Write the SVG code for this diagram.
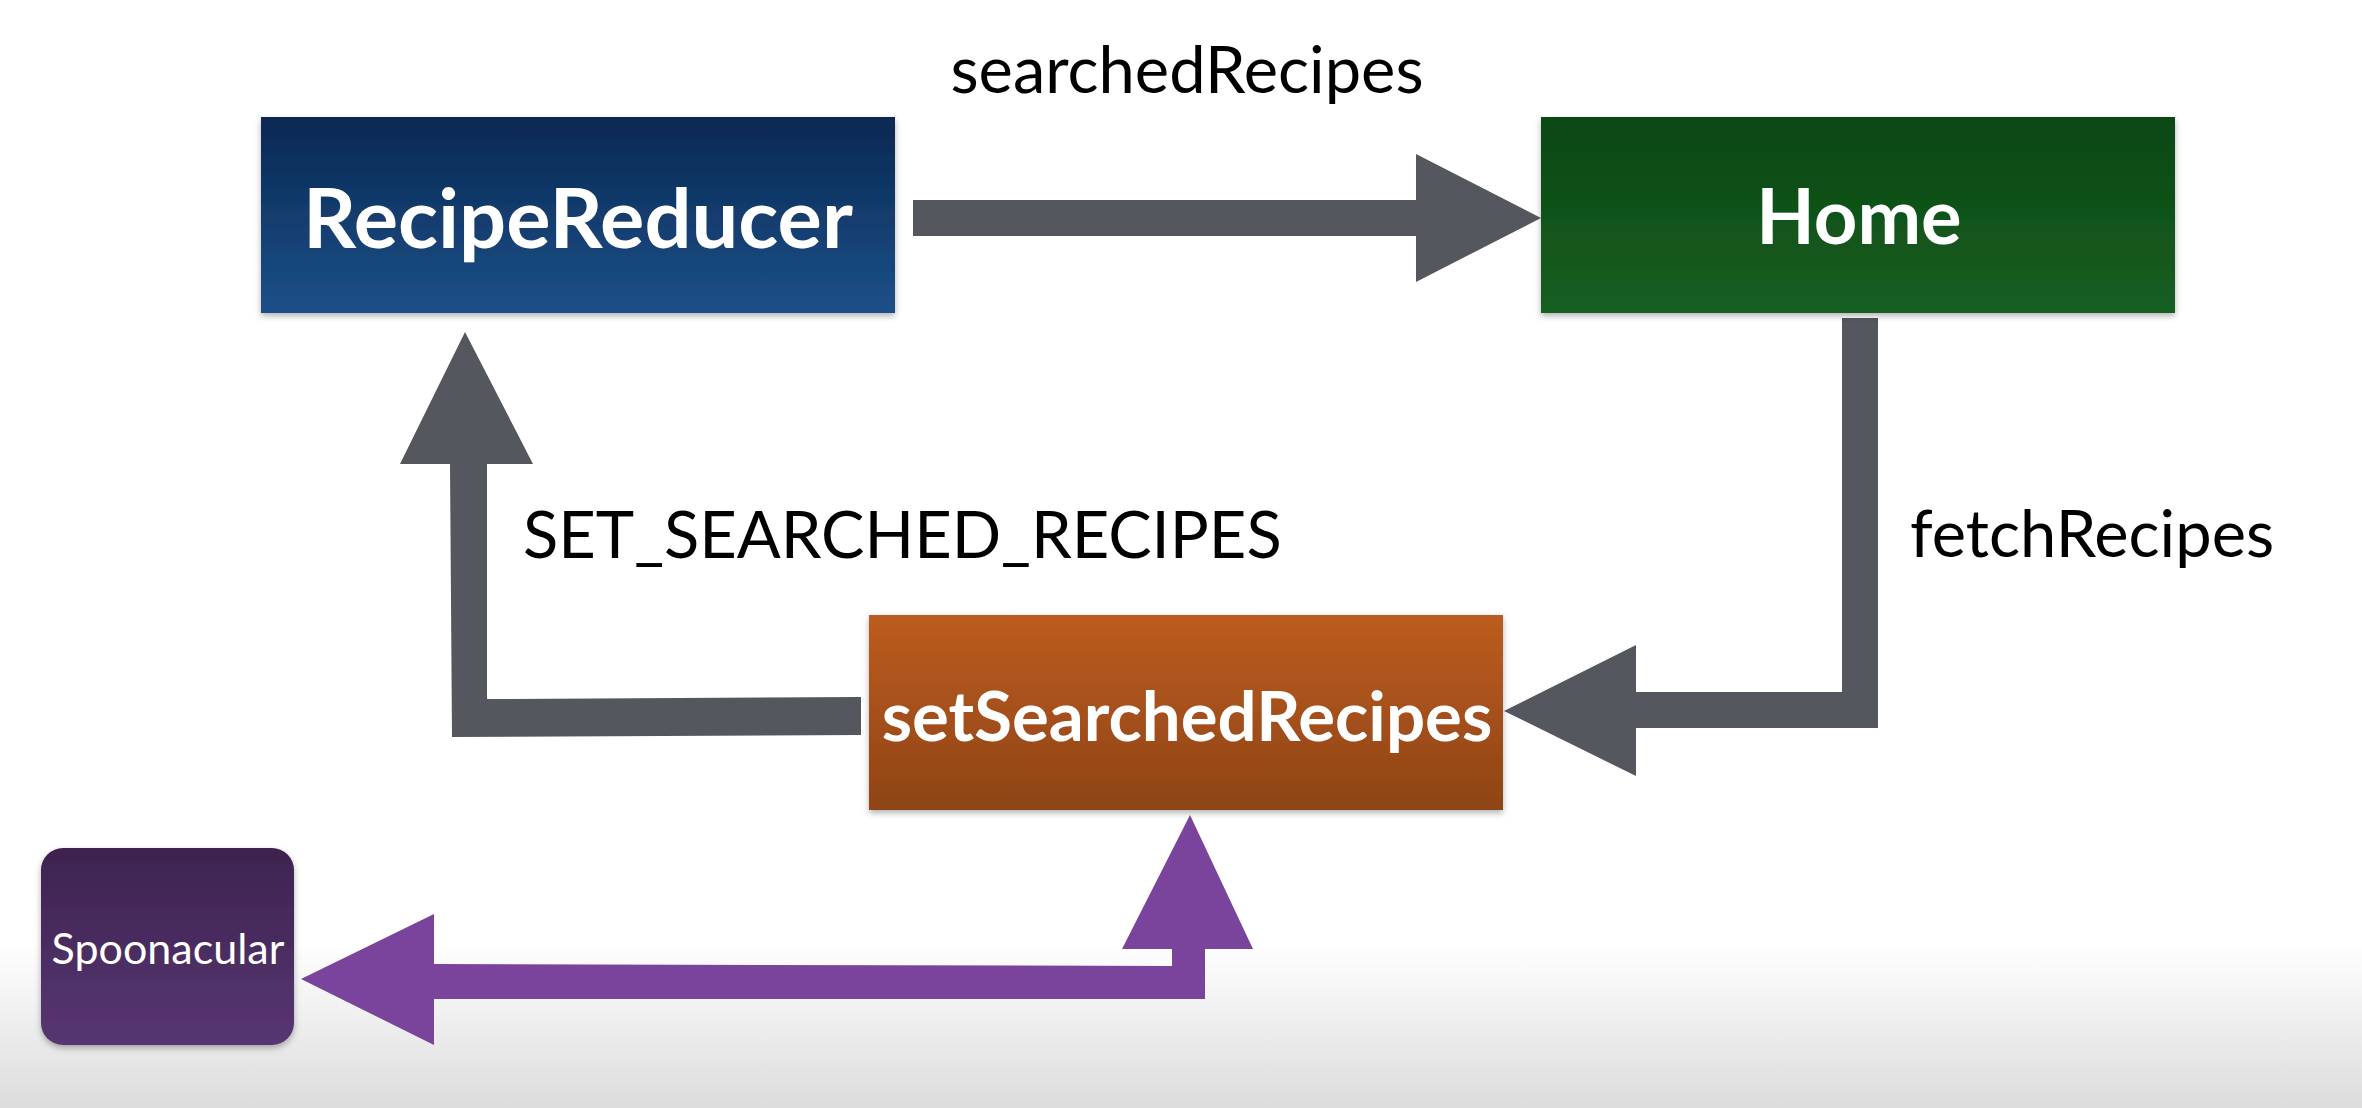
<svg xmlns="http://www.w3.org/2000/svg" width="2362" height="1108" viewBox="0 0 2362 1108">
  <defs>
    <linearGradient id="gBlue" x1="0" y1="0" x2="0" y2="1">
      <stop offset="0" stop-color="#082852"/>
      <stop offset="1" stop-color="#1d5088"/>
    </linearGradient>
    <linearGradient id="gGreen" x1="0" y1="0" x2="0" y2="1">
      <stop offset="0" stop-color="#0b4712"/>
      <stop offset="1" stop-color="#175f22"/>
    </linearGradient>
    <linearGradient id="gOrange" x1="0" y1="0" x2="0" y2="1">
      <stop offset="0" stop-color="#bc5c20"/>
      <stop offset="1" stop-color="#8e4416"/>
    </linearGradient>
    <linearGradient id="gPurple" x1="0" y1="0" x2="0" y2="1">
      <stop offset="0" stop-color="#3e234f"/>
      <stop offset="1" stop-color="#573672"/>
    </linearGradient>
    <linearGradient id="gBg" x1="0" y1="0" x2="0" y2="1">
      <stop offset="0" stop-color="#ffffff"/>
      <stop offset="0.85" stop-color="#ffffff"/>
      <stop offset="1" stop-color="#dcdcdc"/>
    </linearGradient>
    <filter id="shadow" x="-5%" y="-5%" width="110%" height="115%">
      <feDropShadow dx="0" dy="3" stdDeviation="3" flood-color="#000" flood-opacity="0.3"/>
    </filter>
  </defs>
  <style>
    .box { filter: url(#shadow); }
    .nodeText { font-family: Lato, "Liberation Sans", sans-serif; font-weight: bold; fill: #ffffff; text-anchor: middle; }
    .label { font-family: Lato, "Liberation Sans", sans-serif; fill: #000000; font-size: 65px; }
    .gray { fill: #54575e; }
    .purple { fill: #7a449c; }
  </style>

  <rect x="0" y="0" width="2362" height="1108" fill="url(#gBg)"/>

  <g id="connectors">
    <!-- RecipeReducer -> Home -->
    <polygon class="gray" points="913,200 1416,200 1416,154 1541,218 1416,282 1416,236 913,236"/>
    <!-- Home -> setSearchedRecipes -->
    <polygon class="gray" points="1842,318 1878,318 1878,728 1636,728 1636,776 1504,711 1636,645 1636,692 1842,692"/>
    <!-- setSearchedRecipes -> RecipeReducer -->
    <polygon class="gray" points="861,697 861,735 452,737 450,464 400,464 465,332 533,464 487,464 487,699"/>
    <!-- Spoonacular <-> setSearchedRecipes -->
    <polygon class="purple" points="301,979 434,914 434,964 1172,966 1172,949 1122,949 1190,815 1253,949 1205,949 1205,999 434,999 434,1045"/>
    <g id="connector-labels">
      <text class="label" x="1187" y="93" text-anchor="middle">searchedRecipes</text>
      <text class="label" x="523" y="558">SET_SEARCHED_RECIPES</text>
      <text class="label" x="1910" y="557">fetchRecipes</text>
    </g>
  </g>

  <g id="node-recipereducer">
    <rect class="box" x="261" y="117" width="634" height="196" fill="url(#gBlue)"/>
    <text class="nodeText" x="578" y="248" font-size="83">RecipeReducer</text>
  </g>
  <g id="node-home">
    <rect class="box" x="1541" y="117" width="634" height="196" fill="url(#gGreen)"/>
    <text class="nodeText" x="1859" y="244" font-size="76">Home</text>
  </g>
  <g id="node-setsearchedrecipes">
    <rect class="box" x="869" y="615" width="634" height="195" fill="url(#gOrange)"/>
    <text class="nodeText" x="1187" y="741" font-size="69">setSearchedRecipes</text>
  </g>
  <g id="node-spoonacular">
    <rect class="box" x="41" y="848" width="253" height="197" rx="22" ry="22" fill="url(#gPurple)"/>
    <text class="nodeText" x="168" y="964" font-size="43" style="font-weight:normal">Spoonacular</text>
  </g>
</svg>
